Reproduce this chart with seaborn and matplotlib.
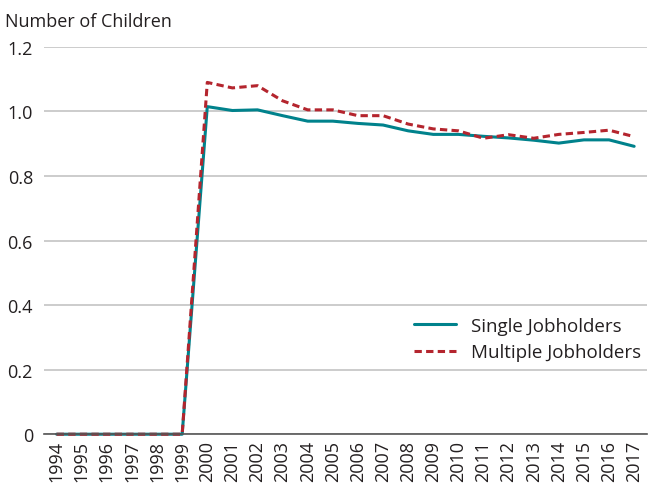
import matplotlib
matplotlib.use("Agg")
import matplotlib.pyplot as plt
import seaborn as sns
import pandas as pd
import numpy as np

years = [str(y) for y in range(1994, 2018)]
single = [0, 0, 0, 0, 0, 0, 1.015, 1.003, 1.005, 0.987, 0.970, 0.970, 0.963, 0.958,
          0.940, 0.929, 0.929, 0.923, 0.918, 0.911, 0.902, 0.912, 0.912, 0.892]
multiple = [0, 0, 0, 0, 0, 0, 1.090, 1.073, 1.080, 1.033, 1.005, 1.005, 0.987, 0.987,
            0.961, 0.946, 0.940, 0.917, 0.928, 0.917, 0.929, 0.935, 0.942, 0.922]
series_names = ["Single Jobholders", "Multiple Jobholders"]
y_ticks = [0, 0.2, 0.4, 0.6, 0.8, 1.0, 1.2]
y_labels = ["0", "0.2", "0.4", "0.6", "0.8", "1.0", "1.2"]

sns.set_theme(style="white")
plt.rcParams["font.family"] = ["Open Sans", "DejaVu Sans"]

pos = np.arange(len(years))
df = pd.DataFrame({
    "pos": np.concatenate([pos, pos]),
    "value": single + multiple,
    "series": [series_names[0]] * len(years) + [series_names[1]] * len(years),
})

fig = plt.figure(figsize=(6.48, 4.89), dpi=100)
ax = fig.add_axes([0.068, 0.110, 0.930, 0.792])

palette = {series_names[0]: "#00828C", series_names[1]: "#B4252E"}
sns.lineplot(data=df, x="pos", y="value", hue="series", style="series",
             palette=palette, dashes={series_names[0]: "", series_names[1]: (2.4, 1.4)},
             linewidth=2.2, ax=ax, clip_on=False)

ax.set_xlim(-0.5, len(years) - 0.5)
ax.set_ylim(0, 1.2)
ax.set_yticks(y_ticks)
ax.set_yticklabels(y_labels, fontsize=13, color="#231f20")
ax.yaxis.grid(True, color="#c8c8c8", linewidth=1.3)
ax.set_axisbelow(True)
ax.tick_params(axis="y", length=0, pad=8)

ax.set_xticks(pos)
ax.set_xticklabels(years, rotation=90, fontsize=13, color="#231f20")
ax.set_xticks(np.arange(-0.5, len(years), 1.0), minor=True)
ax.tick_params(axis="x", which="major", length=0, pad=4)
ax.tick_params(axis="x", which="minor", length=5, width=1, color="#555555", direction="out")

for s in ["top", "right", "left"]:
    ax.spines[s].set_visible(False)
ax.spines["bottom"].set_color("#555555")
ax.spines["bottom"].set_linewidth(1.2)
ax.set_xlabel("")
ax.set_ylabel("")

fig.text(0.008, 0.955, "Number of Children", fontsize=13, color="#231f20", va="center", ha="left")

handles, labels = ax.get_legend_handles_labels()
leg = ax.legend(handles, labels, loc="lower right", bbox_to_anchor=(1.015, 0.15), frameon=True,
                fontsize=13.5, handlelength=2.2, labelspacing=0.45, borderpad=0.3)
leg.get_frame().set_edgecolor("white")
leg.get_frame().set_facecolor("white")
leg.get_frame().set_alpha(1.0)
for t in leg.get_texts():
    t.set_color("#231f20")

fig.savefig("out.png", dpi=100)
